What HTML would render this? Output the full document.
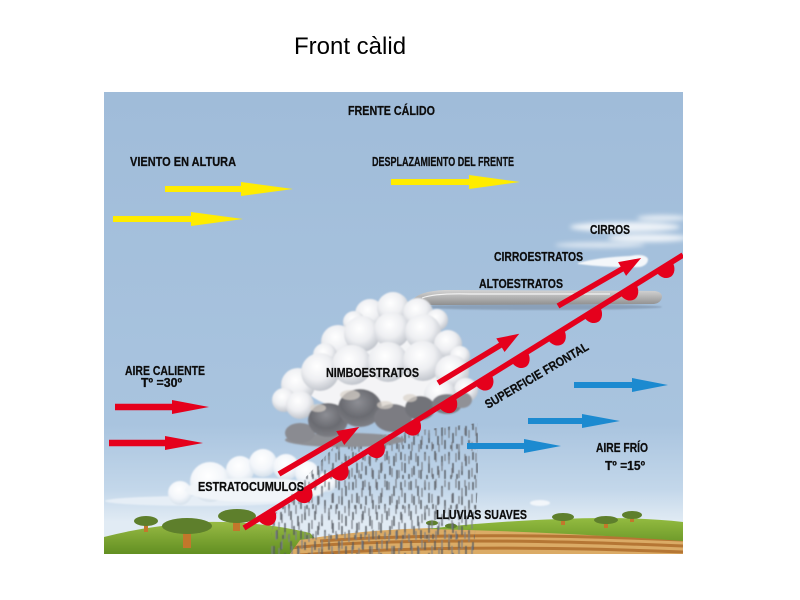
<!DOCTYPE html>
<html><head><meta charset="utf-8">
<style>
html,body{margin:0;padding:0;background:#fff;}
svg{display:block;}
text{font-family:"Liberation Sans",Arial,sans-serif;}
.l{font-weight:bold;font-size:12.5px;fill:#0d0d0d;stroke:#0d0d0d;stroke-width:0.25px;}
</style></head><body>
<svg width="800" height="600" viewBox="0 0 800 600" xmlns="http://www.w3.org/2000/svg">
<defs>
 <linearGradient id="sky" x1="0" y1="92" x2="0" y2="554" gradientUnits="userSpaceOnUse">
  <stop offset="0" stop-color="#a0bcd9"/>
  <stop offset="0.72" stop-color="#a9c4df"/>
  <stop offset="0.86" stop-color="#c3d7ea"/>
  <stop offset="0.93" stop-color="#e1ebf4"/>
  <stop offset="1" stop-color="#e1ebf4"/>
 </linearGradient>
 <radialGradient id="puff" cx="0.42" cy="0.35" r="0.65">
  <stop offset="0" stop-color="#ffffff"/>
  <stop offset="0.55" stop-color="#eeeff2"/>
  <stop offset="1" stop-color="#c2c6cd"/>
 </radialGradient>
 <radialGradient id="spuff" cx="0.45" cy="0.35" r="0.65">
  <stop offset="0" stop-color="#ffffff"/>
  <stop offset="0.6" stop-color="#f3f6fa"/>
  <stop offset="1" stop-color="#d6e1ec"/>
 </radialGradient>
 <radialGradient id="dpuff" cx="0.45" cy="0.35" r="0.65">
  <stop offset="0" stop-color="#8d8e94"/>
  <stop offset="0.6" stop-color="#6a6b71"/>
  <stop offset="1" stop-color="#7d7e84"/>
 </radialGradient>
 <linearGradient id="alto" x1="0" y1="290" x2="0" y2="306" gradientUnits="userSpaceOnUse">
  <stop offset="0" stop-color="#d4d4d4"/>
  <stop offset="0.5" stop-color="#b0b0b0"/>
  <stop offset="1" stop-color="#8a8a8a"/>
 </linearGradient>
 <linearGradient id="lhill" x1="0" y1="520" x2="0" y2="554" gradientUnits="userSpaceOnUse">
  <stop offset="0" stop-color="#9bbd46"/>
  <stop offset="1" stop-color="#628f22"/>
 </linearGradient>
 <linearGradient id="rhill" x1="0" y1="518" x2="0" y2="542" gradientUnits="userSpaceOnUse">
  <stop offset="0" stop-color="#93bb40"/>
  <stop offset="1" stop-color="#6e9a2a"/>
 </linearGradient>
 <filter id="soft" x="-10%" y="-10%" width="120%" height="120%"><feGaussianBlur stdDeviation="0.8"/></filter>
 <filter id="rainb" x="-5%" y="-5%" width="110%" height="110%"><feGaussianBlur stdDeviation="0.45"/></filter>
 <filter id="blur3" x="-20%" y="-100%" width="140%" height="300%"><feGaussianBlur stdDeviation="2.5"/></filter>
 <pattern id="rain1" patternUnits="userSpaceOnUse" width="24" height="30">
  <path d="M3,1v9M10,6v10M17,2v8M21,13v10M6,16v9M13,20v9M1,24v5M19,25v4" stroke="#555a61" stroke-width="1.4" fill="none"/>
 </pattern>
 <pattern id="rain2" patternUnits="userSpaceOnUse" width="20" height="26" patternTransform="translate(7,11)">
  <path d="M2,3v8M9,0v9M15,9v9M5,15v9M12,17v8M18,1v7" stroke="#7b8088" stroke-width="1.2" fill="none"/>
 </pattern>
 <clipPath id="box"><rect x="104" y="92" width="579" height="462"/></clipPath>
 <clipPath id="rainc"><polygon points="340,440 478,423 478,480 474,554 268,554 274,515 303,480"/></clipPath>
 <clipPath id="fieldc"><path d="M290,554 L300,540 Q360,530 430,528 Q560,532 683,540 L683,554 Z"/></clipPath>
</defs>

<text x="294" y="54" font-size="24" fill="#000">Front càlid</text>

<g clip-path="url(#box)">
 <rect x="104" y="92" width="579" height="462" fill="url(#sky)"/>

 <!-- cirros -->
 <g filter="url(#blur3)" fill="#ffffff">
  <ellipse cx="625" cy="227" rx="55" ry="5" opacity="0.8"/>
  <ellipse cx="648" cy="238" rx="40" ry="4" opacity="0.8"/>
  <ellipse cx="600" cy="245" rx="45" ry="3" opacity="0.6"/>
  <ellipse cx="662" cy="218" rx="25" ry="3" opacity="0.7"/>
 </g>
 <!-- cirroestratos -->
 <path d="M578,263 Q600,257 630,256 Q645,253 648,259 Q648,265 640,267 Q610,268 578,264 Z" fill="#f4f7fa" filter="url(#soft)"/>
 <!-- altoestratos -->
 <ellipse cx="540" cy="307" rx="122" ry="3" fill="#6f8197" opacity="0.5" filter="url(#soft)"/>
 <path d="M412,301 Q418,291 445,290 L655,291 Q662,292 662,297 Q661,303 654,304 L445,305 Q420,306 412,301 Z" fill="url(#alto)"/>
 <path d="M422,298 Q435,293 470,294 L610,294" stroke="#fff" stroke-width="1.2" fill="none" opacity="0.8"/>

 <!-- stratocumulus -->
 <g filter="url(#soft)">
  <ellipse cx="200" cy="501" rx="95" ry="5" fill="#e6eef6"/>
  <circle cx="180" cy="493" r="12" fill="url(#spuff)"/>
  <circle cx="210" cy="482" r="20" fill="url(#spuff)"/>
  <circle cx="240" cy="470" r="14" fill="url(#spuff)"/>
  <circle cx="263" cy="463" r="14" fill="url(#spuff)"/>
  <circle cx="286" cy="467" r="13" fill="url(#spuff)"/>
  <circle cx="307" cy="473" r="12" fill="url(#spuff)"/>
  <circle cx="327" cy="482" r="10" fill="url(#spuff)"/>
  <ellipse cx="255" cy="490" rx="70" ry="12" fill="#f1f5f9"/>
  <ellipse cx="540" cy="503" rx="10" ry="3" fill="#f2f6fa"/>
 </g>

 <!-- ground -->
 <path d="M104,537 Q150,525 205,522 Q260,521 310,533 L330,554 L104,554 Z" fill="url(#lhill)"/>
 <path d="M290,554 L300,540 Q360,530 430,528 Q560,532 683,540 L683,554 Z" fill="#dbab66"/>
 <g clip-path="url(#fieldc)" stroke="#b57634" fill="none" stroke-width="3">
  <path d="M290,548 Q420,535 683,546"/>
  <path d="M300,555 Q450,543 683,552"/>
  <path d="M320,541 Q460,531 683,540"/>
 </g>
 <path d="M420,530 Q480,522 560,519 Q630,516 683,522 L683,541 Q560,532 430,529 Z" fill="url(#rhill)"/>

 <!-- trees -->
 <g fill="#c3772b">
  <rect x="144" y="522" width="4" height="10"/>
  <rect x="183" y="528" width="8" height="20"/>
  <rect x="233" y="518" width="7" height="13"/>
  <rect x="561" y="518" width="4" height="7"/>
  <rect x="604" y="521" width="4" height="7"/>
  <rect x="630" y="516" width="4" height="6"/>
 </g>
 <g fill="#5e7f2c">
  <ellipse cx="146" cy="521" rx="12" ry="5"/>
  <ellipse cx="187" cy="526" rx="25" ry="8"/>
  <ellipse cx="237" cy="516" rx="19" ry="7"/>
  <ellipse cx="563" cy="517" rx="11" ry="4"/>
  <ellipse cx="606" cy="520" rx="12" ry="4"/>
  <ellipse cx="632" cy="515" rx="10" ry="4"/>
  <ellipse cx="432" cy="523" rx="6" ry="2.5"/>
  <ellipse cx="451" cy="526" rx="6" ry="2.5"/>
 </g>

 <!-- rain -->
 <g clip-path="url(#rainc)">
  <g filter="url(#rainb)">
   <rect x="260" y="420" width="230" height="140" fill="url(#rain1)"/>
   <rect x="260" y="420" width="230" height="140" fill="url(#rain2)"/>
  </g>
 </g>

 <!-- nimbostratus -->
 <g filter="url(#soft)">
  <ellipse cx="395" cy="345" rx="58" ry="22" fill="#f3f4f6"/>
  <circle cx="370" cy="314" r="15" fill="url(#puff)"/>
  <circle cx="393" cy="308" r="16" fill="url(#puff)"/>
  <circle cx="418" cy="313" r="15" fill="url(#puff)"/>
  <circle cx="437" cy="320" r="11" fill="url(#puff)"/>
  <circle cx="354" cy="322" r="11" fill="url(#puff)"/>
  <circle cx="338" cy="342" r="17" fill="url(#puff)"/>
  <circle cx="362" cy="334" r="18" fill="url(#puff)"/>
  <circle cx="392" cy="330" r="18" fill="url(#puff)"/>
  <circle cx="423" cy="332" r="18" fill="url(#puff)"/>
  <circle cx="448" cy="344" r="14" fill="url(#puff)"/>
  <circle cx="325" cy="355" r="12" fill="url(#puff)"/>
  <circle cx="460" cy="356" r="10" fill="url(#puff)"/>
  <ellipse cx="385" cy="385" rx="80" ry="28" fill="#f4f4f6"/>
  <circle cx="298" cy="385" r="17" fill="url(#puff)"/>
  <circle cx="284" cy="400" r="12" fill="url(#puff)"/>
  <circle cx="320" cy="372" r="19" fill="url(#puff)"/>
  <circle cx="352" cy="365" r="20" fill="url(#puff)"/>
  <circle cx="388" cy="362" r="20" fill="url(#puff)"/>
  <circle cx="423" cy="361" r="20" fill="url(#puff)"/>
  <circle cx="452" cy="372" r="17" fill="url(#puff)"/>
  <circle cx="466" cy="390" r="12" fill="url(#puff)"/>
  <circle cx="300" cy="405" r="14" fill="url(#puff)"/>
  <circle cx="440" cy="395" r="16" fill="url(#puff)"/>
  <ellipse cx="345" cy="440" rx="60" ry="7" fill="#8f9095"/>
  <ellipse cx="300" cy="433" rx="15" ry="10" fill="#8a8b91"/>
  <ellipse cx="328" cy="420" rx="20" ry="17" fill="url(#dpuff)"/>
  <ellipse cx="360" cy="408" rx="22" ry="19" fill="url(#dpuff)"/>
  <ellipse cx="393" cy="418" rx="19" ry="14" fill="#7b7c82"/>
  <ellipse cx="420" cy="408" rx="15" ry="12" fill="#727379"/>
  <ellipse cx="447" cy="404" rx="15" ry="10" fill="#7d7e84"/>
  <ellipse cx="462" cy="400" rx="10" ry="8" fill="#909196"/>
  <ellipse cx="350" cy="395" rx="10" ry="5" fill="#d9d2c9" opacity="0.7"/>
  <ellipse cx="318" cy="408" rx="8" ry="4" fill="#d9d2c9" opacity="0.7"/>
  <ellipse cx="385" cy="405" rx="8" ry="4" fill="#d9d2c9" opacity="0.7"/>
  <ellipse cx="410" cy="398" rx="7" ry="4" fill="#d9d2c9" opacity="0.7"/>
 </g>

 <!-- yellow arrows -->
 <g fill="#ffec00">
  <path d="M165,186 L241,186 L241,182 L293,189 L241,196 L241,192 L165,192 Z"/>
  <path d="M113,216 L191,216 L191,212 L243,219 L191,226 L191,222 L113,222 Z"/>
  <path d="M391,179 L469,179 L469,175 L520,182 L469,189 L469,185 L391,185 Z"/>
 </g>
 <!-- red horizontal arrows -->
 <g fill="#e5001c">
  <path d="M115,403.8 L172,403.8 L172,400 L209,407 L172,414 L172,410.2 L115,410.2 Z"/>
  <path d="M109,439.8 L165,439.8 L165,436 L203,443 L165,450 L165,446.2 L109,446.2 Z"/>
 </g>
 <!-- blue arrows -->
 <g fill="#1c8ad0">
  <path d="M574,382 L632,382 L632,378 L668,385 L632,392 L632,388 L574,388 Z"/>
  <path d="M528,418 L582,418 L582,414 L620,421 L582,428 L582,424 L528,424 Z"/>
  <path d="M467,443 L524,443 L524,439 L561,446 L524,453 L524,449 L467,449 Z"/>
 </g>

 <!-- front line -->
 <line x1="244" y1="528" x2="683" y2="255" stroke="#e5001c" stroke-width="5.5"/>
 <g fill="#e5001c">
  <path transform="translate(266,514.3) rotate(-31.9)" d="M-9.5,0 A9.5,12 0 0 0 9.5,0 Z"/>
  <path transform="translate(302.2,491.8) rotate(-31.9)" d="M-9.5,0 A9.5,12 0 0 0 9.5,0 Z"/>
  <path transform="translate(338.4,469.3) rotate(-31.9)" d="M-9.5,0 A9.5,12 0 0 0 9.5,0 Z"/>
  <path transform="translate(374.6,446.8) rotate(-31.9)" d="M-9.5,0 A9.5,12 0 0 0 9.5,0 Z"/>
  <path transform="translate(410.8,424.3) rotate(-31.9)" d="M-9.5,0 A9.5,12 0 0 0 9.5,0 Z"/>
  <path transform="translate(447,401.8) rotate(-31.9)" d="M-9.5,0 A9.5,12 0 0 0 9.5,0 Z"/>
  <path transform="translate(483.2,379.2) rotate(-31.9)" d="M-9.5,0 A9.5,12 0 0 0 9.5,0 Z"/>
  <path transform="translate(519.4,356.7) rotate(-31.9)" d="M-9.5,0 A9.5,12 0 0 0 9.5,0 Z"/>
  <path transform="translate(555.6,334.2) rotate(-31.9)" d="M-9.5,0 A9.5,12 0 0 0 9.5,0 Z"/>
  <path transform="translate(591.8,311.7) rotate(-31.9)" d="M-9.5,0 A9.5,12 0 0 0 9.5,0 Z"/>
  <path transform="translate(628,289.2) rotate(-31.9)" d="M-9.5,0 A9.5,12 0 0 0 9.5,0 Z"/>
  <path transform="translate(664.2,266.7) rotate(-31.9)" d="M-9.5,0 A9.5,12 0 0 0 9.5,0 Z"/>
  <!-- diagonal arrows -->
  <path transform="translate(558,306) rotate(-30)" d="M0,-2.8 L74,-2.8 L74,-8 L96,0 L74,8 L74,2.8 L0,2.8 Z"/>
  <path transform="translate(438,383) rotate(-31.2)" d="M0,-2.8 L73,-2.8 L73,-8 L95,0 L73,8 L73,2.8 L0,2.8 Z"/>
  <path transform="translate(279,474) rotate(-30.4)" d="M0,-2.8 L71,-2.8 L71,-8 L93,0 L71,8 L71,2.8 L0,2.8 Z"/>
 </g>

 <!-- labels -->
 <text class="l" x="348" y="115" textLength="87" lengthAdjust="spacingAndGlyphs">FRENTE CÁLIDO</text>
 <text class="l" x="130" y="166" textLength="106" lengthAdjust="spacingAndGlyphs">VIENTO EN ALTURA</text>
 <text class="l" x="372" y="166" textLength="142" lengthAdjust="spacingAndGlyphs">DESPLAZAMIENTO DEL FRENTE</text>
 <text class="l" x="590" y="234" textLength="40" lengthAdjust="spacingAndGlyphs">CIRROS</text>
 <text class="l" x="494" y="261" textLength="89" lengthAdjust="spacingAndGlyphs">CIRROESTRATOS</text>
 <text class="l" x="479" y="288" textLength="84" lengthAdjust="spacingAndGlyphs">ALTOESTRATOS</text>
 <text class="l" x="125" y="375" textLength="80" lengthAdjust="spacingAndGlyphs">AIRE CALIENTE</text>
 <text class="l" x="141" y="387" textLength="41" lengthAdjust="spacingAndGlyphs">Tº =30º</text>
 <text class="l" x="326" y="377" textLength="93" lengthAdjust="spacingAndGlyphs">NIMBOESTRATOS</text>
 <text class="l" x="198" y="491" textLength="106" lengthAdjust="spacingAndGlyphs">ESTRATOCUMULOS</text>
 <text class="l" x="596" y="452" textLength="52" lengthAdjust="spacingAndGlyphs">AIRE FRÍO</text>
 <text class="l" x="605" y="470" textLength="40" lengthAdjust="spacingAndGlyphs">Tº =15º</text>
 <text class="l" x="436" y="519" textLength="91" lengthAdjust="spacingAndGlyphs">LLUVIAS SUAVES</text>
 <text class="l" transform="translate(488,409) rotate(-30.5)" x="0" y="0" textLength="118" lengthAdjust="spacingAndGlyphs">SUPERFICIE FRONTAL</text>
</g>
</svg>
</body></html>
